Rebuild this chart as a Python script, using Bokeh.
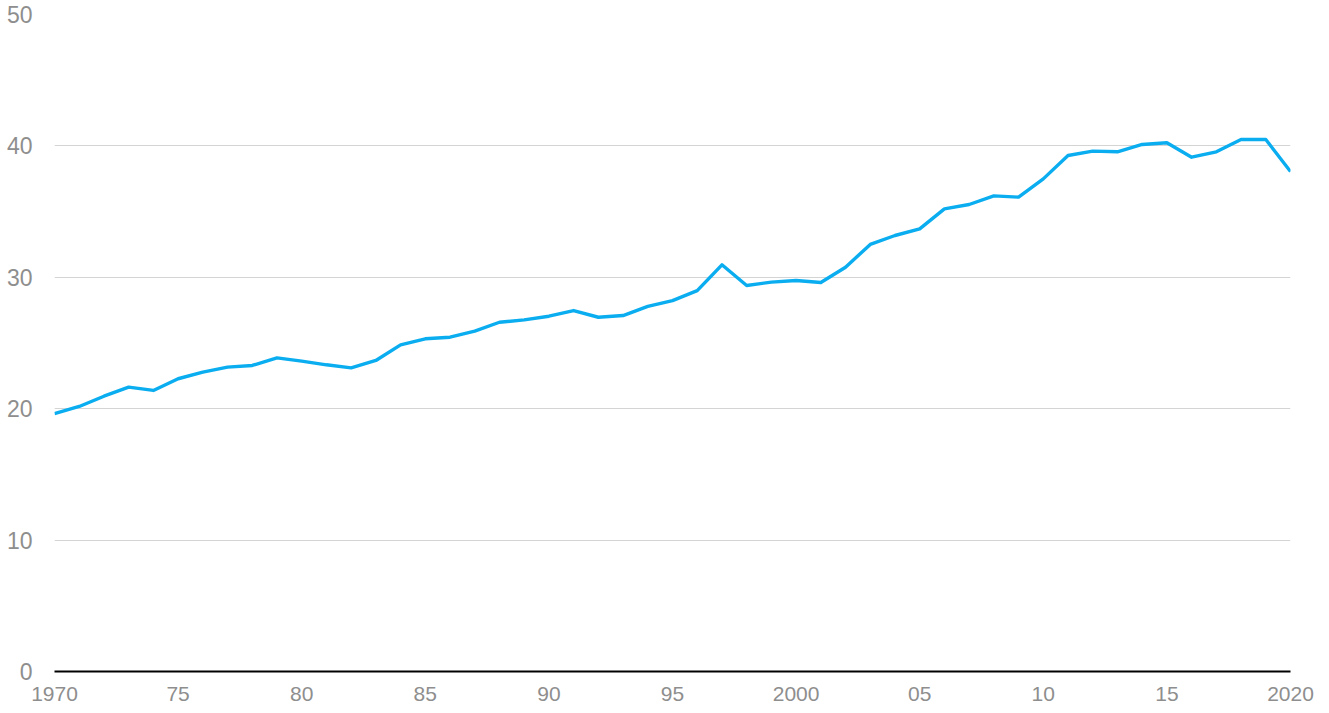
from bokeh.plotting import figure
from bokeh.models import FixedTicker, Range1d
from bokeh.embed import file_html
from bokeh.resources import INLINE

years = list(range(1970, 2021))
values = [19.63, 20.17, 20.95, 21.64, 21.39, 22.28, 22.78, 23.16, 23.29, 23.87,
          23.62, 23.34, 23.11, 23.67, 24.86, 25.32, 25.44, 25.90, 26.58, 26.76,
          27.04, 27.47, 26.96, 27.09, 27.78, 28.23, 28.99, 30.95, 29.38, 29.63,
          29.76, 29.60, 30.77, 32.50, 33.18, 33.69, 35.21, 35.54, 36.20, 36.10,
          37.49, 39.27, 39.60, 39.55, 40.11, 40.24, 39.14, 39.55, 40.49, 40.49,
          38.05]

x_ticks = [1970, 1975, 1980, 1985, 1990, 1995, 2000, 2005, 2010, 2015, 2020]
x_tick_labels = ["1970", "75", "80", "85", "90", "95", "2000", "05", "10", "15", "2020"]
y_ticks = [0, 10, 20, 30, 40, 50]

FONT = "Liberation Sans"
GREY = "#8e8e8e"

p = figure(width=1321, height=708, output_backend="svg", toolbar_location=None,
           x_range=Range1d(1970, 2020), y_range=Range1d(0, 50),
           min_border_left=54, min_border_right=31, min_border_top=14, min_border_bottom=37)
p.outline_line_color = None
p.background_fill_color = "white"

p.line(years, values, line_color="#0AADEF", line_width=3.4, line_join="round")

# x axis
xa = p.xaxis[0]
xa.ticker = FixedTicker(ticks=x_ticks)
xa.major_label_overrides = {t: l for t, l in zip(x_ticks, x_tick_labels)}
xa.axis_line_color = "black"
xa.axis_line_width = 2
xa.major_tick_line_color = None
xa.minor_tick_line_color = None
xa.major_label_text_color = GREY
xa.major_label_text_font = FONT
xa.major_label_text_font_size = "21px"
xa.major_label_standoff = 9

# y axis
ya = p.yaxis[0]
ya.ticker = FixedTicker(ticks=y_ticks)
ya.axis_line_color = None
ya.major_tick_line_color = None
ya.minor_tick_line_color = None
ya.major_label_text_color = GREY
ya.major_label_text_font = FONT
ya.major_label_text_font_size = "23px"
ya.major_label_standoff = 16

p.xgrid.grid_line_color = None
p.ygrid.ticker = FixedTicker(ticks=[10, 20, 30, 40, 50])
p.ygrid.grid_line_color = "#d4d4d4"
p.ygrid.grid_line_width = 1

open("out.html", "w").write(file_html(p, INLINE))
